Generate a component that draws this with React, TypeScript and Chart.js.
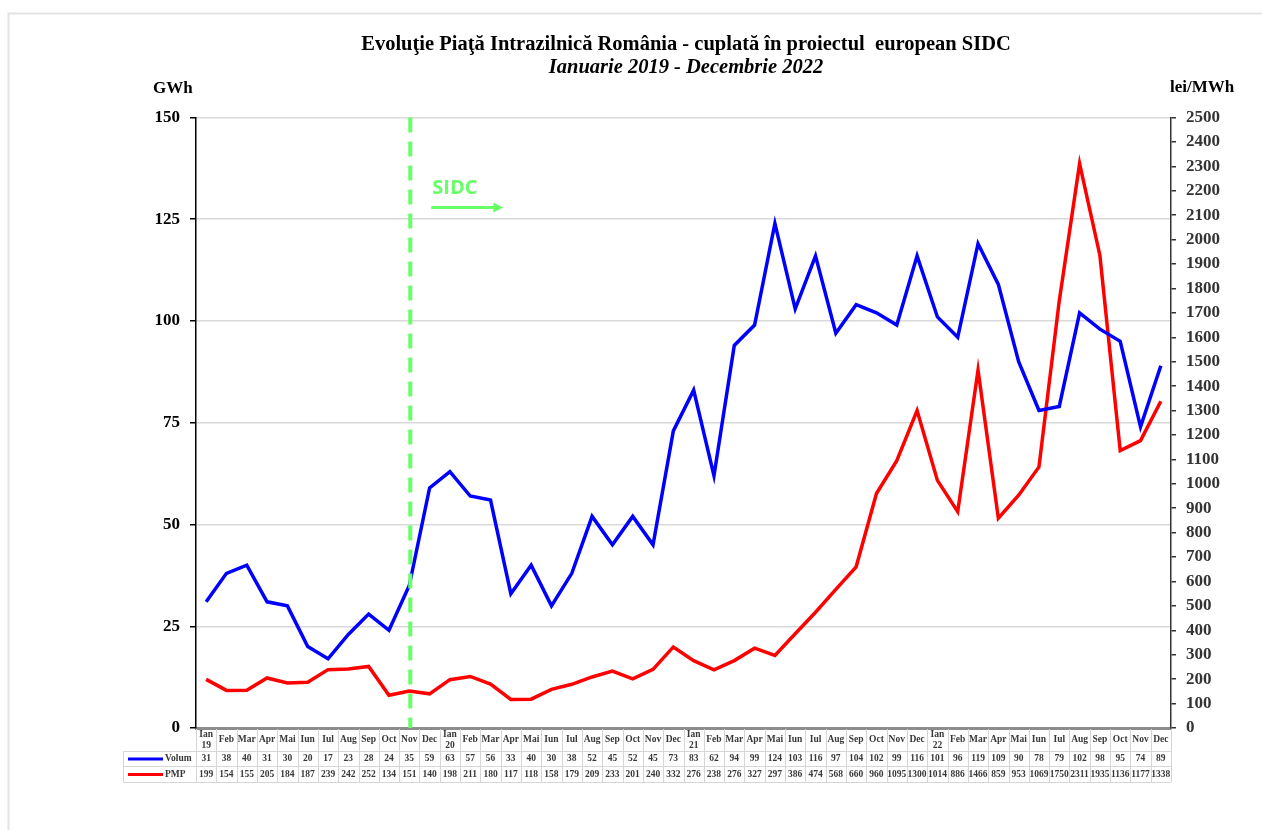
import React, { useEffect, useRef } from "react";
import { Chart, registerables } from "chart.js";

Chart.register(...registerables);

const TITLE = "Evoluţie Piaţă Intrazilnică România - cuplată în proiectul  european SIDC";
const SUBTITLE = "Ianuarie 2019 - Decembrie 2022";
const LEFT_UNIT = "GWh";
const RIGHT_UNIT = "lei/MWh";
const MARKER_TEXT = "SIDC";
const MARKER_INDEX = 10; // Nov 2019

const MONTHS = [
  "Ian\n19", "Feb", "Mar", "Apr", "Mai", "Iun", "Iul", "Aug", "Sep", "Oct", "Nov", "Dec",
  "Ian\n20", "Feb", "Mar", "Apr", "Mai", "Iun", "Iul", "Aug", "Sep", "Oct", "Nov", "Dec",
  "Ian\n21", "Feb", "Mar", "Apr", "Mai", "Iun", "Iul", "Aug", "Sep", "Oct", "Nov", "Dec",
  "Ian\n22", "Feb", "Mar", "Apr", "Mai", "Iun", "Iul", "Aug", "Sep", "Oct", "Nov", "Dec",
];

const VOLUM = [
  31, 38, 40, 31, 30, 20, 17, 23, 28, 24, 35, 59,
  63, 57, 56, 33, 40, 30, 38, 52, 45, 52, 45, 73,
  83, 62, 94, 99, 124, 103, 116, 97, 104, 102, 99, 116,
  101, 96, 119, 109, 90, 78, 79, 102, 98, 95, 74, 89,
];

const PMP = [
  199, 154, 155, 205, 184, 187, 239, 242, 252, 134, 151, 140,
  198, 211, 180, 117, 118, 158, 179, 209, 233, 201, 240, 332,
  276, 238, 276, 327, 297, 386, 474, 568, 660, 960, 1095, 1300,
  1014, 886, 1466, 859, 953, 1069, 1750, 2311, 1935, 1136, 1177, 1338,
];

const SERIES_NAMES = ["Volum", "PMP"];
const SERIES_COLORS = ["#0000FF", "#FF0000"];

const LEFT_MAX = 150;
const LEFT_STEP = 25;
const RIGHT_MAX = 2500;
const RIGHT_STEP = 100;

const SERIF = "'Liberation Serif', 'Times New Roman', serif";

const decorPlugin = {
  id: "decor",
  beforeDraw(chart: any) {
    const ctx = chart.ctx;
    ctx.save();
    ctx.fillStyle = "#ffffff";
    ctx.fillRect(0, 0, chart.width, chart.height);
    ctx.strokeStyle = "#e3e3e3";
    ctx.lineWidth = 2;
    ctx.beginPath();
    ctx.moveTo(8.5, chart.height);
    ctx.lineTo(8.5, 13.5);
    ctx.lineTo(chart.width, 13.5);
    ctx.stroke();
    ctx.restore();
  },
  afterDatasetsDraw(chart: any) {
    const ctx = chart.ctx;
    const area = chart.chartArea;
    const x = chart.scales.x;
    const mx = x.getPixelForValue(MARKER_INDEX) + 1;
    ctx.save();
    ctx.strokeStyle = "#66FF66";
    ctx.lineWidth = 4;
    ctx.setLineDash([15, 9]);
    ctx.beginPath();
    ctx.moveTo(mx, area.top);
    ctx.lineTo(mx, area.bottom);
    ctx.stroke();
    ctx.setLineDash([]);
    // SIDC text and arrow
    ctx.fillStyle = "#66FF66";
    ctx.font = "bold 20px 'Open Sans', 'Noto Sans', sans-serif";
    ctx.textAlign = "left";
    ctx.textBaseline = "alphabetic";
    ctx.fillText(MARKER_TEXT, mx + 22, 194);
    const ay = 207.5;
    ctx.strokeStyle = "#66FF66";
    ctx.lineWidth = 3;
    ctx.beginPath();
    ctx.moveTo(mx + 21, ay);
    ctx.lineTo(mx + 85, ay);
    ctx.stroke();
    ctx.beginPath();
    ctx.moveTo(mx + 83, ay - 5);
    ctx.lineTo(mx + 93, ay);
    ctx.lineTo(mx + 83, ay + 5);
    ctx.closePath();
    ctx.fill();
    ctx.restore();
  },
  afterDraw(chart: any) {
    const ctx = chart.ctx;
    const area = chart.chartArea;
    const x = chart.scales.x;
    ctx.save();
    // titles
    ctx.fillStyle = "#000";
    ctx.textAlign = "center";
    ctx.textBaseline = "alphabetic";
    ctx.font = `bold 20.5px ${SERIF}`;
    ctx.fillText(TITLE, 686, 50);
    ctx.font = `italic bold 20.5px ${SERIF}`;
    ctx.fillText(SUBTITLE, 686, 73);
    ctx.font = `bold 17px ${SERIF}`;
    ctx.textAlign = "left";
    ctx.fillText(LEFT_UNIT, 153, 93);
    ctx.fillText(RIGHT_UNIT, 1170, 92);

    // data table
    const colW = (area.right - area.left) / MONTHS.length;
    const top = area.bottom + 1;
    const hBottom = 751.5;
    const r1Bottom = 766.5;
    const r2Bottom = 782.5;
    const labelLeft = 123.5;
    ctx.strokeStyle = "#d6d6d6";
    ctx.lineWidth = 1;
    ctx.beginPath();
    ctx.moveTo(labelLeft, hBottom);
    ctx.lineTo(area.right, hBottom);
    ctx.moveTo(labelLeft, r1Bottom);
    ctx.lineTo(area.right, r1Bottom);
    ctx.moveTo(labelLeft, r2Bottom);
    ctx.lineTo(area.right, r2Bottom);
    ctx.moveTo(labelLeft, hBottom);
    ctx.lineTo(labelLeft, r2Bottom);
    for (let i = 0; i <= MONTHS.length; i++) {
      const vx = Math.round(area.left + i * colW) + 0.5;
      ctx.moveTo(vx, top);
      ctx.lineTo(vx, r2Bottom);
    }
    ctx.stroke();

    ctx.fillStyle = "#383838";
    ctx.font = `bold 9.5px ${SERIF}`;
    ctx.textAlign = "center";
    ctx.textBaseline = "middle";
    MONTHS.forEach((m, i) => {
      const cx = x.getPixelForValue(i);
      const parts = m.split("\n");
      if (parts.length === 2) {
        ctx.fillText(parts[0], cx, 735);
        ctx.fillText(parts[1], cx, 745.5);
      } else {
        ctx.fillText(m, cx, 740);
      }
      ctx.fillText(String(VOLUM[i]), cx, 759);
      ctx.fillText(String(PMP[i]), cx, 774.5);
    });

    // legend keys
    const rowsY = [759, 774.5];
    SERIES_NAMES.forEach((name, k) => {
      ctx.strokeStyle = SERIES_COLORS[k];
      ctx.lineWidth = 3;
      ctx.beginPath();
      ctx.moveTo(128, rowsY[k]);
      ctx.lineTo(163, rowsY[k]);
      ctx.stroke();
      ctx.fillStyle = "#383838";
      ctx.textAlign = "left";
      ctx.fillText(name, 165, rowsY[k]);
    });
    ctx.restore();
  },
};

export default function App() {
  const ref = useRef<HTMLCanvasElement | null>(null);

  useEffect(() => {
    if (!ref.current) return;
    const chart = new Chart(ref.current, {
      type: "line",
      data: {
        labels: MONTHS,
        datasets: [
          {
            label: SERIES_NAMES[0],
            data: VOLUM,
            borderColor: SERIES_COLORS[0],
            backgroundColor: SERIES_COLORS[0],
            borderWidth: 3.5,
            pointRadius: 0,
            tension: 0,
            yAxisID: "y",
          },
          {
            label: SERIES_NAMES[1],
            data: PMP,
            borderColor: SERIES_COLORS[1],
            backgroundColor: SERIES_COLORS[1],
            borderWidth: 3.5,
            pointRadius: 0,
            tension: 0,
            yAxisID: "y1",
          },
        ],
      },
      options: {
        responsive: false,
        animation: false,
        layout: { padding: { top: 117.5, left: 0, right: 0, bottom: 0 } },
        plugins: {
          legend: { display: false },
          title: { display: false },
          tooltip: { enabled: false },
        },
        scales: {
          x: {
            type: "category",
            offset: true,
            grid: { display: false },
            ticks: { display: false },
            border: { display: true, color: "#8c8c8c", width: 3 },
            afterFit: (s: any) => {
              s.height = 102;
            },
          },
          y: {
            position: "left",
            min: 0,
            max: LEFT_MAX,
            ticks: {
              stepSize: LEFT_STEP,
              padding: 10,
              color: "#000",
              font: { family: SERIF, size: 17, weight: "bold" },
              callback: (v: any) => String(v),
            },
            grid: {
              color: "#d9d9d9",
              lineWidth: 1.5,
              tickLength: 6,
              tickColor: "#000",
              drawTicks: true,
            },
            border: { display: true, color: "#000", width: 1.5 },
            afterFit: (s: any) => {
              s.width = 196;
            },
          },
          y1: {
            position: "right",
            min: 0,
            max: RIGHT_MAX,
            ticks: {
              stepSize: RIGHT_STEP,
              padding: 10,
              color: "#333",
              font: { family: SERIF, size: 17, weight: "bold" },
              callback: (v: any) => String(v),
            },
            grid: {
              drawOnChartArea: false,
              tickLength: 5,
              tickColor: "#333",
              lineWidth: 1.5,
            },
            border: { display: true, color: "#333", width: 1.5 },
            afterFit: (s: any) => {
              s.width = 91;
            },
          },
        },
      } as any,
      plugins: [decorPlugin],
    });
    return () => chart.destroy();
  }, []);

  return (
    <div style={{ position: "absolute", left: 0, top: 0, width: 1262, height: 830, background: "#fff" }}>
      <canvas ref={ref} width={1262} height={830} style={{ display: "block" }} />
    </div>
  );
}
